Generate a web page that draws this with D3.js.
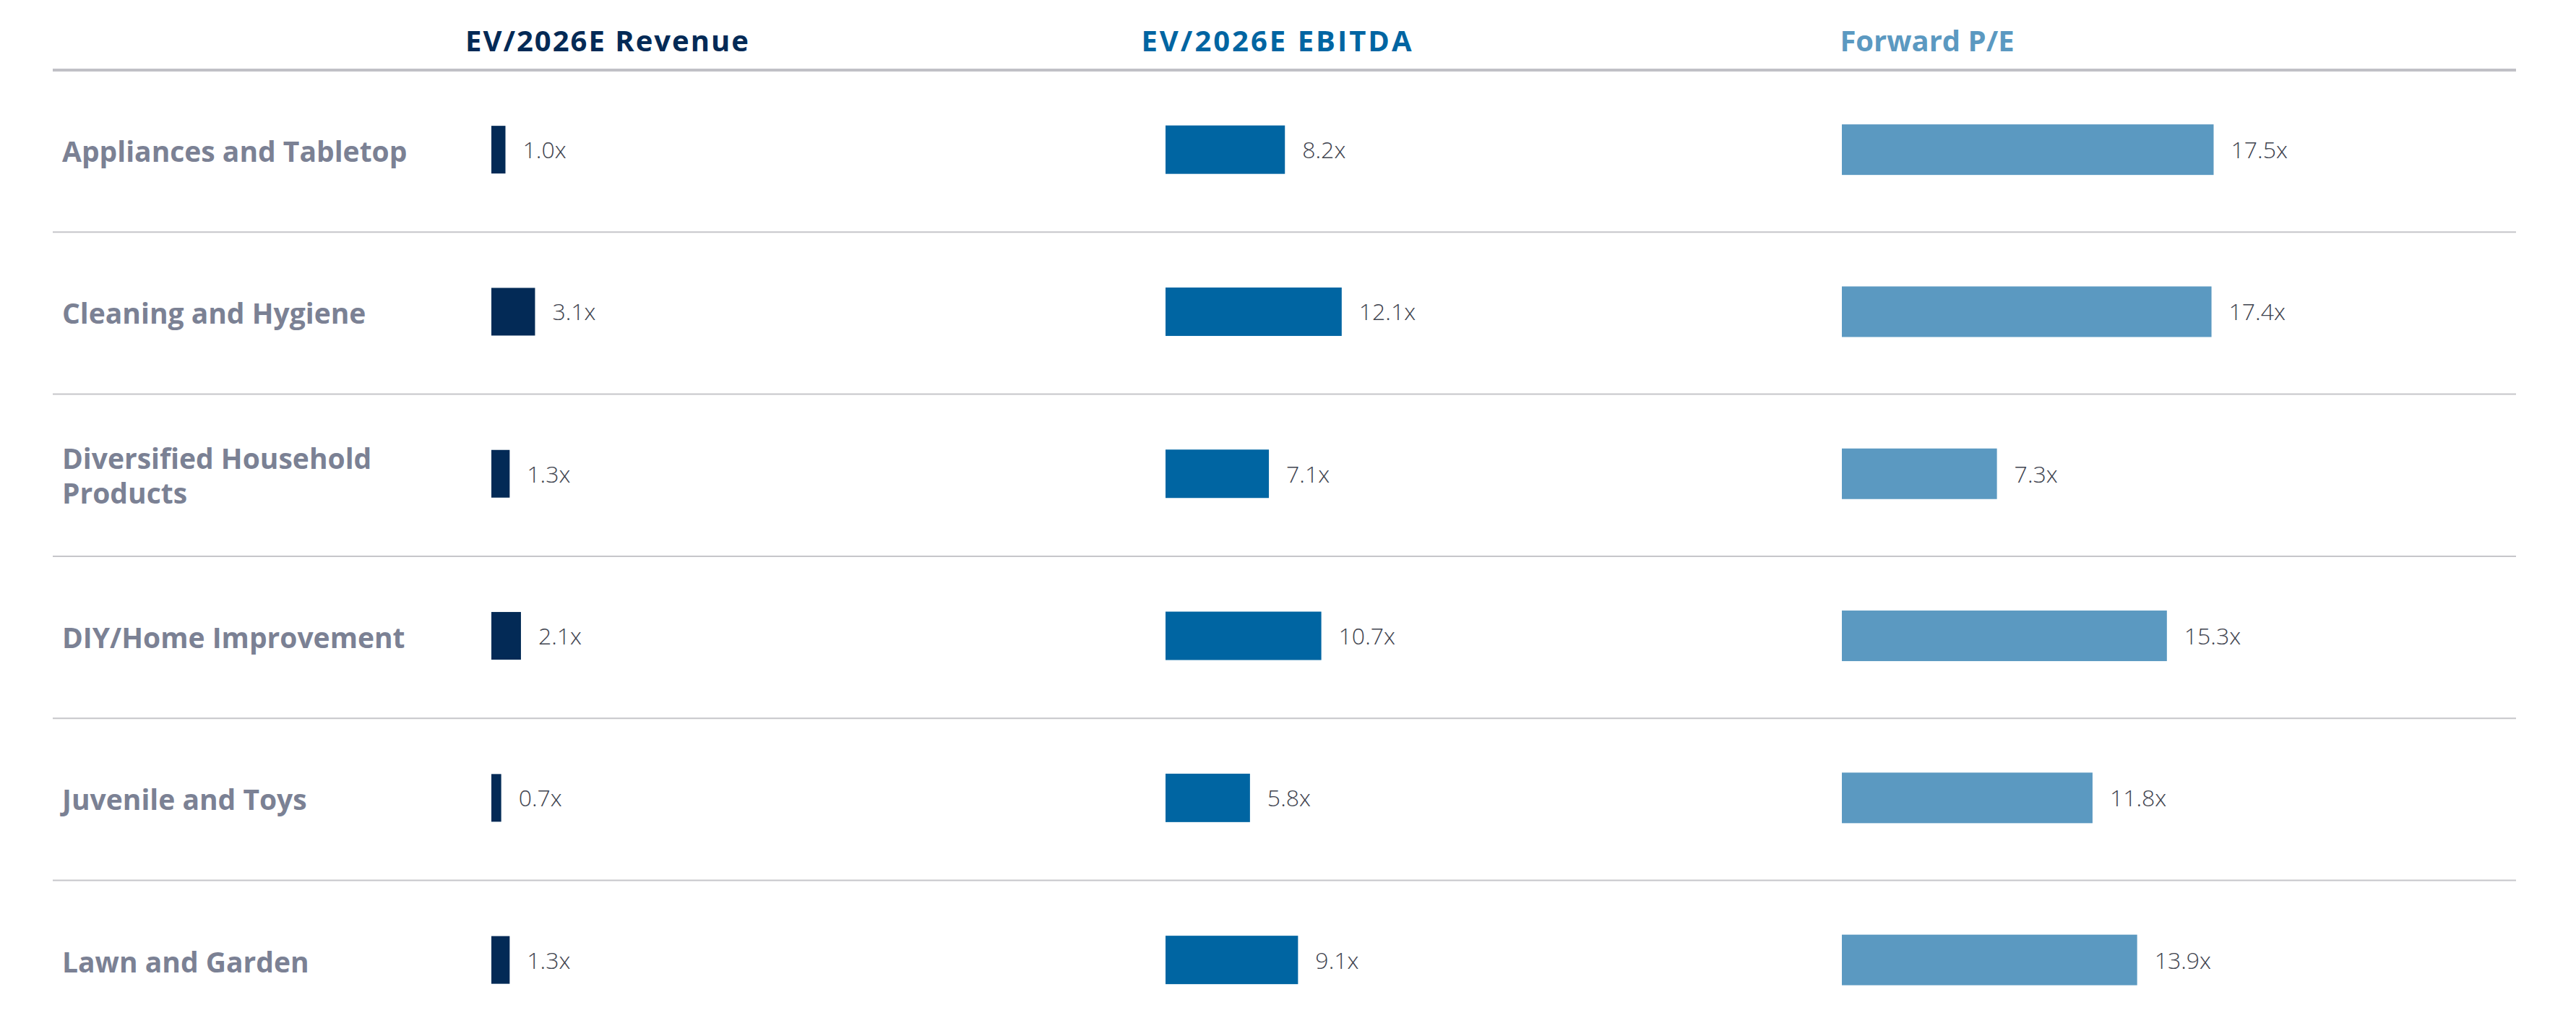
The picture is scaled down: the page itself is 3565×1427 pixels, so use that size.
<!DOCTYPE html>
<html lang="en">
<head>
    <meta charset="UTF-8">
    <title>Valuation Multiples by Sub-Sector</title>
    <script src="https://d3js.org/d3.v7.min.js"></script>
    <style>
        body {
            margin: 0;
            background: #ffffff;
            font-family: "Open Sans", "Noto Sans", Arial, sans-serif;
        }
        .header { font-size: 40px; font-weight: 700; }
        .category { font-size: 39px; font-weight: 700; fill: #7b8194; }
        .value { font-size: 32px; font-weight: 300; fill: #3f444f; }
    </style>
</head>
<body>
    <svg id="chart" width="3565" height="1427"></svg>

    <script>
        // Data
        const categories = [
            "Appliances and Tabletop",
            "Cleaning and Hygiene",
            "Diversified Household Products",
            "DIY/Home Improvement",
            "Juvenile and Toys",
            "Lawn and Garden"
        ];
        const categoryLines = [
            ["Appliances and Tabletop"],
            ["Cleaning and Hygiene"],
            ["Diversified Household", "Products"],
            ["DIY/Home Improvement"],
            ["Juvenile and Toys"],
            ["Lawn and Garden"]
        ];
        const metrics = ["EV/2026E Revenue", "EV/2026E EBITDA", "Forward P/E"];
        const evRevenue = [1.0, 3.1, 1.3, 2.1, 0.7, 1.3];
        const evEbitda = [8.2, 12.1, 7.1, 10.7, 5.8, 9.1];
        const forwardPE = [17.5, 17.4, 7.3, 15.3, 11.8, 13.9];

        // Layout
        const svg = d3.select("#chart");
        const lineLeft = 73, lineRight = 3482;
        const rowTop = 97, rowStep = 224.3;

        const y = d3.scaleBand()
            .domain(categories)
            .range([rowTop, rowTop + rowStep * categories.length])
            .paddingInner(0)
            .paddingOuter(0);

        // one panel per metric, each with its own scale
        const panels = [
            { name: metrics[0], values: evRevenue, x0: 680, color: "#032a56", barH: 66,
              scale: d3.scaleLinear().domain([0, 20]).range([0, 390]), headerX: 841, spacing: 2 },
            { name: metrics[1], values: evEbitda, x0: 1613, color: "#0065a2", barH: 67,
              scale: d3.scaleLinear().domain([0, 20]).range([0, 403]), headerX: 1768, spacing: 3 },
            { name: metrics[2], values: forwardPE, x0: 2549, color: "#5b99c1", barH: 70,
              scale: d3.scaleLinear().domain([0, 20]).range([0, 588]), headerX: 2667, spacing: 0 }
        ];

        // Header titles
        svg.selectAll(".header")
            .data(panels)
            .enter()
            .append("text")
            .attr("class", "header")
            .attr("x", d => d.headerX)
            .attr("y", 71)
            .attr("text-anchor", "middle")
            .attr("letter-spacing", d => d.spacing)
            .attr("fill", d => d.color)
            .text(d => d.name);

        // Header rule (thick) + row separators (thin)
        svg.append("line")
            .attr("x1", lineLeft).attr("x2", lineRight)
            .attr("y1", rowTop).attr("y2", rowTop)
            .attr("stroke", "#c0c0c6")
            .attr("stroke-width", 4);

        svg.selectAll(".sep")
            .data(categories.slice(1))
            .enter()
            .append("line")
            .attr("class", "sep")
            .attr("x1", lineLeft).attr("x2", lineRight)
            .attr("y1", d => y(d))
            .attr("y2", d => y(d))
            .attr("stroke", "#c6c6ca")
            .attr("stroke-width", 2);

        // Category labels
        const cat = svg.selectAll(".category")
            .data(categories)
            .enter()
            .append("text")
            .attr("class", "category")
            .attr("x", 86)
            .attr("y", d => y(d) + y.bandwidth() / 2);

        cat.each(function(d, i) {
            const lines = categoryLines[i];
            const lh = 48;
            const start = 15 - (lines.length - 1) * lh / 2;
            lines.forEach((t, j) => {
                d3.select(this).append("tspan")
                    .attr("x", 86)
                    .attr("dy", j === 0 ? start : lh)
                    .text(t);
            });
        });

        // Bars + value labels
        panels.forEach(p => {
            const g = svg.append("g");
            const rows = categories.map((c, i) => ({ cat: c, v: p.values[i] }));
            const cy = d => y(d.cat) + y.bandwidth() / 2 - 2;

            g.selectAll("rect")
                .data(rows)
                .enter()
                .append("rect")
                .attr("x", p.x0)
                .attr("y", d => cy(d) - p.barH / 2)
                .attr("width", d => p.scale(d.v))
                .attr("height", p.barH)
                .attr("fill", p.color);

            g.selectAll(".value")
                .data(rows)
                .enter()
                .append("text")
                .attr("class", "value")
                .attr("x", d => p.x0 + p.scale(d.v) + 24)
                .attr("y", d => cy(d) + 12)
                .text(d => d.v.toFixed(1) + "x");
        });
    </script>
</body>
</html>
